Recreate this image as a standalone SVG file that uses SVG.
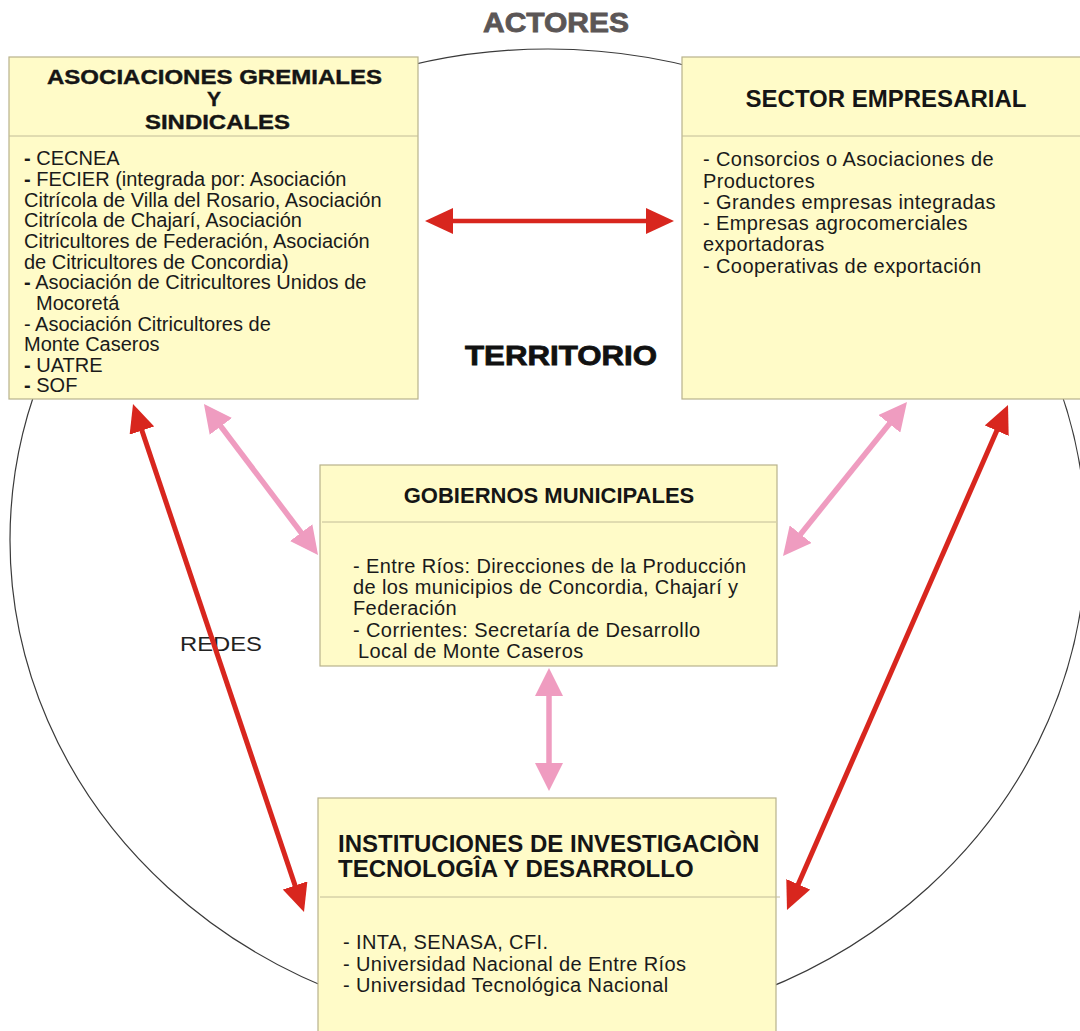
<svg xmlns="http://www.w3.org/2000/svg" width="1080" height="1031" viewBox="0 0 1080 1031">
<style>
.box{fill:#fffbc8;stroke:#b8b28c;stroke-width:1.2}
.div{stroke:#c2bc98;stroke-width:1}
.title{font-family:"Liberation Sans",Arial,sans-serif;font-weight:bold;font-size:24px;fill:#151515}
.t1{font-size:21px}
.body{font-family:"Liberation Sans",Arial,sans-serif;font-size:20px;fill:#1a1a1a}
.wide{letter-spacing:0.4px}
.red{stroke:#d8261e;stroke-width:5;fill:none}
.pink{stroke:#ef9cc0;stroke-width:5.5;fill:none}
.red.h{stroke-width:4.5}
</style>
<defs>
<marker id="ar" markerUnits="userSpaceOnUse" markerWidth="28" markerHeight="26" viewBox="0 0 28 26" refX="18" refY="13" orient="auto-start-reverse"><path d="M0,0 L28,13 L0,26 z" fill="#d8261e"/></marker>
<marker id="ap" markerUnits="userSpaceOnUse" markerWidth="28" markerHeight="28" viewBox="0 0 28 28" refX="18" refY="14" orient="auto-start-reverse"><path d="M0,0 L28,14 L0,28 z" fill="#ef9cc0"/></marker>
</defs>
<rect width="1080" height="1031" fill="#ffffff"/>
<ellipse cx="548" cy="540" rx="538" ry="491" fill="none" stroke="#3a3a3a" stroke-width="1.2"/>
<text x="483" y="32" textLength="146" lengthAdjust="spacingAndGlyphs" style="font-family:'Liberation Sans',Arial,sans-serif;font-weight:bold;font-size:27px;fill:#5b5656;stroke:#5b5656;stroke-width:0.8">ACTORES</text>
<text x="465" y="365" textLength="192" lengthAdjust="spacingAndGlyphs" style="font-family:'Liberation Sans',Arial,sans-serif;font-weight:bold;font-size:27px;fill:#111;stroke:#111;stroke-width:0.8">TERRITORIO</text>
<text x="180" y="651" textLength="82" lengthAdjust="spacingAndGlyphs" style="font-family:'Liberation Sans',Arial,sans-serif;font-size:21px;fill:#222">REDES</text>

<g id="asociaciones">
<rect class="box" x="9" y="57" width="409" height="342"/>
<line class="div" x1="9" y1="136" x2="418" y2="136"/>
<text class="title t1" x="47" y="84" textLength="335" lengthAdjust="spacingAndGlyphs" stroke="#151515" stroke-width="0.4">ASOCIACIONES GREMIALES</text>
<text class="title t1" x="214" y="106" text-anchor="middle" stroke="#151515" stroke-width="0.4">Y</text>
<text class="title t1" x="145" y="129" textLength="145" lengthAdjust="spacingAndGlyphs" stroke="#151515" stroke-width="0.4">SINDICALES</text>
<text class="body" x="24" y="165"><tspan font-weight="bold">-</tspan> CECNEA</text>
<text class="body" x="24" y="186"><tspan font-weight="bold">-</tspan> FECIER (integrada por: Asociación</text>
<text class="body" x="24" y="207">Citrícola de Villa del Rosario, Asociación</text>
<text class="body" x="24" y="227">Citrícola de Chajarí, Asociación</text>
<text class="body" x="24" y="248">Citricultores de Federación, Asociación</text>
<text class="body" x="24" y="269">de Citricultores de Concordia)</text>
<text class="body" x="24" y="289"><tspan font-weight="bold">-</tspan> Asociación de Citricultores Unidos de</text>
<text class="body" x="36" y="310">Mocoretá</text>
<text class="body" x="24" y="331">- Asociación Citricultores de</text>
<text class="body" x="24" y="351">Monte Caseros</text>
<text class="body" x="24" y="372"><tspan font-weight="bold">-</tspan> UATRE</text>
<text class="body" x="24" y="392"><tspan font-weight="bold">-</tspan> SOF</text>
</g>

<g id="sector">
<rect class="box" x="682" y="57" width="410" height="342"/>
<line class="div" x1="682" y1="136" x2="1092" y2="136"/>
<text class="title" x="886" y="107" text-anchor="middle">SECTOR EMPRESARIAL</text>
<text class="body wide" x="703" y="166">- Consorcios o Asociaciones de</text>
<text class="body wide" x="703" y="188">Productores</text>
<text class="body wide" x="703" y="209">- Grandes empresas integradas</text>
<text class="body wide" x="703" y="230">- Empresas agrocomerciales</text>
<text class="body wide" x="703" y="251">exportadoras</text>
<text class="body wide" x="703" y="273">- Cooperativas de exportación</text>
</g>

<g id="gobiernos">
<rect class="box" x="320" y="465" width="457" height="201"/>
<line class="div" x1="322" y1="522" x2="776" y2="522"/>
<text class="title" x="549" y="503" text-anchor="middle" style="font-size:22px">GOBIERNOS MUNICIPALES</text>
<text class="body wide" x="353" y="573">- Entre Ríos: Direcciones de la Producción</text>
<text class="body wide" x="353" y="594">de los municipios de Concordia, Chajarí y</text>
<text class="body wide" x="353" y="615">Federación</text>
<text class="body wide" x="353" y="637">- Corrientes: Secretaría de Desarrollo</text>
<text class="body wide" x="358" y="658">Local de Monte Caseros</text>
</g>

<g id="instituciones">
<rect class="box" x="318" y="798" width="458" height="245"/>
<line class="div" x1="320" y1="897" x2="780" y2="897"/>
<text class="title" x="338" y="852">INSTITUCIONES DE INVESTIGACIÒN</text>
<text class="title" x="338" y="877">TECNOLOGÎA Y DESARROLLO</text>
<text class="body wide" x="343" y="949">- INTA, SENASA, CFI.</text>
<text class="body wide" x="343" y="971">- Universidad Nacional de Entre Ríos</text>
<text class="body wide" x="343" y="992">- Universidad Tecnológica Nacional</text>
</g>

<g id="connectors">
<line class="red h" x1="435" y1="221" x2="664" y2="221" marker-start="url(#ar)" marker-end="url(#ar)"/>
<line class="red" x1="136.2" y1="413.5" x2="300.8" y2="902.5" marker-start="url(#ar)" marker-end="url(#ar)"/>
<line class="red" x1="1004" y1="414.2" x2="791" y2="900.8" marker-start="url(#ar)" marker-end="url(#ar)"/>
<line class="pink" x1="210" y1="412" x2="312" y2="547" marker-start="url(#ap)" marker-end="url(#ap)"/>
<line class="pink" x1="900.7" y1="409.8" x2="789.3" y2="548.2" marker-start="url(#ap)" marker-end="url(#ap)"/>
<line class="pink" x1="549" y1="678" x2="549" y2="781" marker-start="url(#ap)" marker-end="url(#ap)"/>
</g>
</svg>
